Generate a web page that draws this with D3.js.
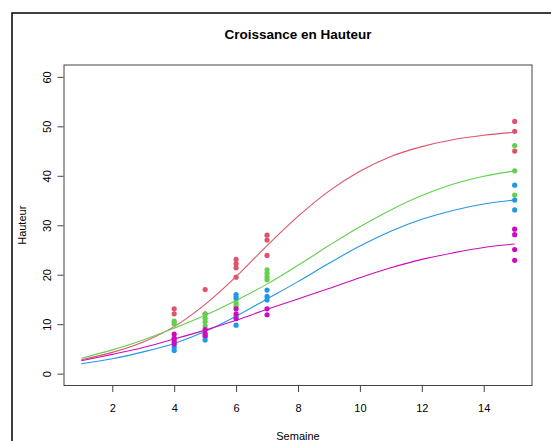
<!DOCTYPE html>
<html><head><meta charset="utf-8">
<script src="https://cdn.jsdelivr.net/npm/d3@7"></script>
<style>body{margin:0;background:#fff}svg{display:block;font-family:"Liberation Sans",Arial,sans-serif}</style>
</head><body><svg id="c" width="551" height="441"></svg>
<script>
const title = "Croissance en Hauteur";
const xLabel = "Semaine";
const yLabel = "Hauteur";
const xTicks = [2,4,6,8,10,12,14];
const yTicks = [0,10,20,30,40,50,60];
const groups = ["A","B","C","D"];
const colors = ["#DF536B","#61D04F","#2297E6","#CD0BBC"];
// fitted curves read at integer weeks 1..15
const curveWeeks = [1,2,3,4,5,6,7,8,9,10,11,12,13,14,15];
const curveA = [2.8,4.3,6.4,9.5,14.0,19.6,25.9,31.8,36.9,40.9,43.9,45.9,47.3,48.2,48.8];
const curveB = [3.1,4.8,6.8,9.2,11.8,14.8,18.1,21.9,25.9,29.7,33.1,36.0,38.3,39.9,41.0];
const curveC = [2.0,3.0,4.4,6.1,8.5,11.6,15.1,18.6,22.3,25.8,28.8,31.2,33.0,34.3,35.1];
const curveD = [2.6,3.9,5.3,7.0,8.8,10.8,13.0,15.1,17.2,19.4,21.4,23.1,24.4,25.5,26.2];
// observed points: [week, height]
const pointsA = [[4,13.1],[4,12.1],[5,17.0],[5,12.1],[6,23.1],[6,22.2],[6,21.4],[6,19.5],[7,28.0],[7,27.0],[7,23.9],[15,51.0],[15,49.0],[15,45.0]];
const pointsB = [[4,10.6],[4,10.1],[5,12.0],[5,11.2],[5,10.5],[5,9.6],[6,15.0],[6,14.2],[6,13.6],[7,21.0],[7,20.3],[7,19.6],[7,19.0],[15,46.1],[15,41.0],[15,36.1]];
const pointsC = [[4,7.0],[4,5.4],[4,4.7],[5,7.4],[5,6.8],[6,16.0],[6,15.4],[6,11.6],[6,9.8],[7,16.9],[7,15.6],[7,14.9],[15,38.1],[15,35.1],[15,33.1]];
const pointsD = [[4,8.0],[4,7.2],[4,6.5],[4,6.0],[5,8.9],[5,8.1],[5,7.7],[6,13.1],[6,12.1],[6,11.1],[7,13.1],[7,11.9],[15,29.2],[15,28.1],[15,25.1],[15,22.9]];

const curves = [curveA,curveB,curveC,curveD];
const points = [pointsA,pointsB,pointsC,pointsD];

const svg = d3.select("#c");
const L=64,R=532,T=65,B=385.5;
const x = d3.scaleLinear().domain([0.44,15.56]).range([L,R]);
const y = d3.scaleLinear().domain([-2.4,62.4]).range([B,T]);

// outer frame
svg.append("path").attr("d","M12,441 L12,13 L551,13").attr("fill","none").attr("stroke","#000").attr("stroke-width",1.5);

// curves
const line = d3.line().x(d=>x(d[0])).y(d=>y(d[1])).curve(d3.curveCatmullRom.alpha(0.5));
curves.forEach((c,i)=>{
  svg.append("path").datum(curveWeeks.map((w,j)=>[w,c[j]]))
    .attr("d",line).attr("fill","none").attr("stroke",colors[i]).attr("stroke-width",1.1);
});
// points
points.forEach((p,i)=>{
  svg.append("g").selectAll("circle").data(p).join("circle")
    .attr("cx",d=>x(d[0])).attr("cy",d=>y(d[1])).attr("r",2.6).attr("fill",colors[i]);
});

// box
svg.append("rect").attr("x",L).attr("y",T).attr("width",R-L).attr("height",B-T)
  .attr("fill","none").attr("stroke","#444").attr("stroke-width",1);

// x axis
const gx = svg.append("g").attr("transform",`translate(0,${B+0.5})`)
  .call(d3.axisBottom(x).tickValues(xTicks).tickSize(6).tickPadding(12).tickFormat(d3.format("d")));
gx.select(".domain").remove();
gx.selectAll("line").attr("stroke","#444");
gx.selectAll("text").attr("font-size",11).attr("fill","#000").attr("font-family","Liberation Sans, Arial, sans-serif");

// y axis
const gy = svg.append("g").attr("transform",`translate(${L-0.5},0)`)
  .call(d3.axisLeft(y).tickValues(yTicks).tickSize(6).tickPadding(0).tickFormat(d3.format("d")));
gy.select(".domain").remove();
gy.selectAll("line").attr("stroke","#444");
gy.selectAll("text").attr("font-size",11).attr("fill","#000").attr("font-family","Liberation Sans, Arial, sans-serif")
  .attr("text-anchor","middle").attr("x",0).attr("dy",0)
  .attr("transform","translate(-17,0) rotate(-90) translate(0,4)");

// title & labels
svg.append("text").attr("x",(L+R)/2).attr("y",39).attr("text-anchor","middle")
  .attr("font-size",13.5).attr("font-weight","bold").text(title);
svg.append("text").attr("x",(L+R)/2).attr("y",440).attr("text-anchor","middle")
  .attr("font-size",11).text(xLabel);
svg.append("text").attr("transform",`translate(26,${(T+B)/2}) rotate(-90)`).attr("text-anchor","middle")
  .attr("font-size",11).text(yLabel);
</script></body></html>
